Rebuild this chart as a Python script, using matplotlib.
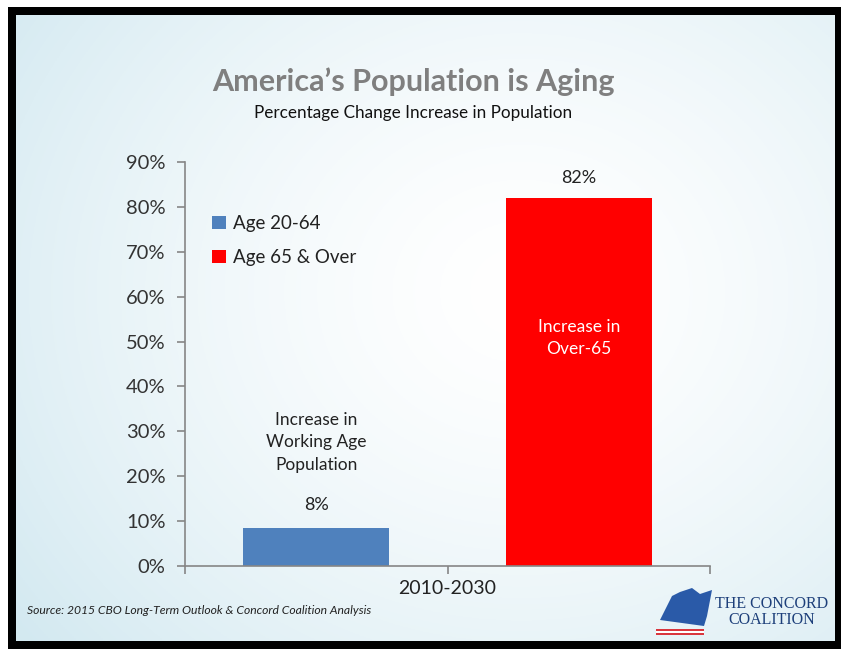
import numpy as np
import matplotlib
matplotlib.use("Agg")
import matplotlib.pyplot as plt
from matplotlib.patches import Rectangle, Polygon

plt.rcParams['font.family'] = ['Lato', 'DejaVu Sans']

# ---- data ----
period = ["2010-2030"]
series = ["Age 20-64", "Age 65 & Over"]
values = [8.4, 82.0]
colors = ["#4f81bd", "#ff0000"]
bar_notes = ["Increase in\nWorking Age\nPopulation", "Increase in\nOver-65"]
yticks = [0, 10, 20, 30, 40, 50, 60, 70, 80, 90]

W, H = 841, 649
fig = plt.figure(figsize=(W / 100, H / 100), dpi=100)

# soft blue-to-white slide background
bg = fig.add_axes([0, 0, 1, 1], zorder=-10)
yy, xx = np.mgrid[0:1:300j, 0:1:400j]
r = np.sqrt(((xx - 0.62) / 0.75) ** 2 + ((yy - 0.55) / 0.85) ** 2)
t = np.clip(r, 0, 1) ** 1.5
c0 = np.array([1.0, 1.0, 1.0])
c1 = np.array([0.83, 0.915, 0.945])
img = c0[None, None, :] * (1 - t[..., None]) + c1[None, None, :] * t[..., None]
bg.imshow(img, extent=[0, 1, 0, 1], aspect='auto', origin='lower')
bg.set_xlim(0, 1)
bg.set_ylim(0, 1)
bg.axis('off')

# black slide frame with white outer margin at top/left
def fx(px):
    return px / W

def fy(py):
    return 1 - py / H

frame = [
    (0, 0, W, 7, 'white'), (0, 0, 8, H, 'white'),
    (8, 7, W - 8, 8, 'black'),            # top
    (8, 7, 8, H - 7, 'black'),            # left
    (835, 7, 6, H - 7, 'black'),          # right
    (8, 641, W - 8, 8, 'black'),          # bottom
]
for x0, y0, w, h, c in frame:
    fig.patches.append(Rectangle((fx(x0), fy(y0 + h)), w / W, h / H,
                                 transform=fig.transFigure, facecolor=c,
                                 edgecolor='none', zorder=5))

# ---- chart ----
ax = fig.add_axes([185 / W, 1 - 566 / H, (710 - 185) / W, (566 - 162) / H])
ax.set_facecolor('none')
x = np.arange(len(period))
bw = 0.278
offs = [-0.25, 0.25]
for i, (s, v, c) in enumerate(zip(series, values, colors)):
    ax.bar(x + offs[i], [v], width=bw, color=c, label=s, zorder=2)

ax.set_xlim(-0.5, 0.5)
ax.set_ylim(0, 90)
ax.set_yticks(yticks)
ax.set_yticklabels([f"{v}%" for v in yticks])
ax.set_xticks([-0.5, 0, 0.5])
ax.set_xticklabels(["", period[0], ""])
for s in ['top', 'right']:
    ax.spines[s].set_visible(False)
for s in ['left', 'bottom']:
    ax.spines[s].set_color('#868686')
    ax.spines[s].set_linewidth(1.2)
ax.tick_params(axis='y', length=6, width=1.2, color='#868686', pad=8,
               labelsize=14.5, labelcolor='#333333')
ax.tick_params(axis='x', length=6, width=1.2, color='#868686', pad=4,
               labelsize=14, labelcolor='#222222')

# value labels and notes
ax.text(x[0] + offs[0], values[0] + 12.4, bar_notes[0], ha='center', va='bottom',
        fontsize=12.5, color='#222222', linespacing=1.5)
ax.text(x[0] + offs[0], values[0] + 3.4, f"{values[0]:.0f}%", ha='center',
        va='bottom', fontsize=13, color='#222222')
ax.text(x[0] + offs[1], values[1] + 2.6, f"{values[1]:.0f}%", ha='center',
        va='bottom', fontsize=13, color='#222222')
ax.text(x[0] + offs[1], 50.8, bar_notes[1], ha='center', va='center',
        fontsize=12.5, color='white', linespacing=1.5)

leg = ax.legend(loc='upper left', bbox_to_anchor=(0.02, 0.91), frameon=False,
                fontsize=13.5, handlelength=0.7, handleheight=0.7,
                handletextpad=0.4, labelspacing=0.9, labelcolor='#222222')

# titles
fig.text(413 / W, fy(82), "America\u2019s Population is Aging", ha='center',
         va='center', fontsize=22, fontweight='bold', color='#7f7f7f')
fig.text(413 / W, fy(113), "Percentage Change Increase in Population",
         ha='center', va='center', fontsize=12.3, color='#111111')

# source note
fig.text(27 / W, fy(611), "Source: 2015 CBO Long-Term Outlook & Concord Coalition Analysis",
         ha='left', va='center', fontsize=8.7, style='italic', color='#222222')

# logo
navy = '#1d3f7a'
logo = Polygon([(fx(660), fy(620)), (fx(672), fy(596)), (fx(680), fy(592)),
                (fx(692), fy(588)), (fx(700), fy(594)), (fx(712), fy(590)),
                (fx(707), fy(616)), (fx(704), fy(626))],
               closed=True, transform=fig.transFigure, facecolor='#2a5aa8',
               edgecolor='none', zorder=6)
fig.patches.append(logo)
for k, c in enumerate(['#d9363e', 'white', '#d9363e']):
    fig.patches.append(Rectangle((fx(656), fy(629 + 2 * k + 2)), 48 / W, 2 / H,
                                 transform=fig.transFigure, facecolor=c,
                                 edgecolor='none', zorder=6))
fig.text(fx(772), fy(612), "THE CONCORD\nCOALITION", ha='center', va='center',
         fontsize=11.5, family='Liberation Serif', color=navy, zorder=7,
         linespacing=0.95)

fig.savefig("out.png", dpi=100)
